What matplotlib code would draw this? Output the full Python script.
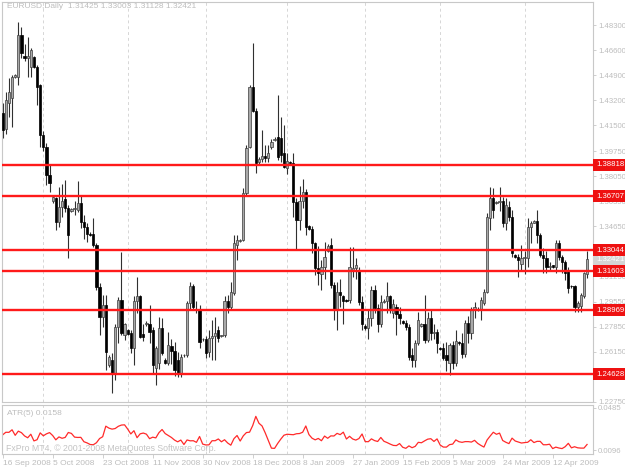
import numpy as np
import pandas as pd
import matplotlib
matplotlib.use("Agg")
import matplotlib.pyplot as plt

plt.rcParams["font.family"] = ["Liberation Sans", "DejaVu Sans"]

# EURUSD daily bars, 16 Sep 2008 - 24 Apr 2009 (Sunday bars included, no 25 Dec / 1 Jan)
opens = [1.4233, 1.4125, 1.4300, 1.4335, 1.4480, 1.4480, 1.4765, 1.4625, 1.4610, 1.4549,
         1.4617, 1.4549, 1.4425, 1.4086, 1.4006, 1.3814, 1.3635, 1.3655, 1.3497, 1.3600,
         1.3650, 1.3590, 1.3570, 1.3580, 1.3576, 1.3622, 1.3497, 1.3460, 1.3415, 1.3410,
         1.3339, 1.3056, 1.2852, 1.2931, 1.2524, 1.2560, 1.2470, 1.2784, 1.2965, 1.2728,
         1.2760, 1.2740, 1.2637, 1.2960, 1.2990, 1.2735, 1.2800, 1.2800, 1.2760, 1.2501,
         1.2535, 1.2773, 1.2560, 1.2540, 1.2650, 1.2620, 1.2560, 1.2470, 1.2590, 1.2590,
         1.2943, 1.3060, 1.2895, 1.2900, 1.2700, 1.2700, 1.2610, 1.2705, 1.2720, 1.2760,
         1.2720, 1.2725, 1.2960, 1.2920, 1.3010, 1.3340, 1.3365, 1.3375, 1.3690, 1.4006,
         1.4410, 1.4250, 1.3900, 1.3925, 1.3940, 1.3930, 1.4005, 1.4050, 1.4070, 1.4063,
         1.3960, 1.3860, 1.3900, 1.3893, 1.3633, 1.3510, 1.3640, 1.3700, 1.3470, 1.3450,
         1.3350, 1.3180, 1.3140, 1.3190, 1.3300, 1.3339, 1.3067, 1.2897, 1.3022, 1.2990,
         1.2965, 1.2965, 1.3170, 1.3180, 1.3170, 1.2950, 1.2790, 1.2775, 1.2840, 1.3033,
         1.2910, 1.2800, 1.2950, 1.2960, 1.2990, 1.2880, 1.2920, 1.2870, 1.2820, 1.2810,
         1.2784, 1.2590, 1.2560, 1.2671, 1.2790, 1.2800, 1.2694, 1.2841, 1.2739, 1.2750,
         1.2640, 1.2637, 1.2590, 1.2535, 1.2660, 1.2540, 1.2680, 1.2670, 1.2600, 1.2810,
         1.2740, 1.2900, 1.2905, 1.2900, 1.2943, 1.3022, 1.3520, 1.3655, 1.3622, 1.3630,
         1.3640, 1.3485, 1.3600, 1.3530, 1.3270, 1.3258, 1.3210, 1.3248, 1.3250, 1.3463,
         1.3490, 1.3500, 1.3407, 1.3271, 1.3250, 1.3190, 1.3200, 1.3192, 1.3350, 1.3260,
         1.3220, 1.3160, 1.3060, 1.3058, 1.2920, 1.2925, 1.2990, 1.31425]
highs = [1.4301, 1.4380, 1.4470, 1.4495, 1.4500, 1.4855, 1.4820, 1.4700, 1.4750, 1.4675,
         1.4625, 1.4560, 1.4430, 1.4110, 1.4029, 1.3882, 1.3680, 1.3667, 1.3730, 1.3750,
         1.3780, 1.3610, 1.3590, 1.3640, 1.3770, 1.3680, 1.3540, 1.3490, 1.3425, 1.3520,
         1.3350, 1.3080, 1.2999, 1.2999, 1.2590, 1.2603, 1.2800, 1.2988, 1.3294, 1.2810,
         1.2770, 1.2760, 1.2990, 1.3124, 1.3000, 1.2800, 1.2820, 1.2931, 1.2780, 1.2650,
         1.2850, 1.2840, 1.2570, 1.2750, 1.2700, 1.2680, 1.2610, 1.2600, 1.2600, 1.2960,
         1.3090, 1.3075, 1.2960, 1.2930, 1.2710, 1.2720, 1.2760, 1.2830, 1.2850, 1.2790,
         1.2730, 1.2990, 1.3000, 1.3090, 1.3407, 1.3407, 1.3380, 1.3725, 1.4020, 1.4425,
         1.4708, 1.4270, 1.3935, 1.4119, 1.4017, 1.4017, 1.4060, 1.4070, 1.4357, 1.4210,
         1.4150, 1.3960, 1.3910, 1.3961, 1.3660, 1.3740, 1.3790, 1.3720, 1.3475, 1.3470,
         1.3360, 1.3330, 1.3240, 1.3360, 1.3345, 1.3385, 1.3090, 1.3090, 1.3110, 1.3000,
         1.2975, 1.3328, 1.3328, 1.3250, 1.3190, 1.2990, 1.2800, 1.2900, 1.3060, 1.3070,
         1.2940, 1.3000, 1.2970, 1.3090, 1.3000, 1.2970, 1.2940, 1.2920, 1.2830, 1.2830,
         1.2800, 1.2640, 1.2694, 1.2886, 1.2810, 1.2999, 1.2886, 1.2897, 1.2800, 1.2770,
         1.2645, 1.2671, 1.2680, 1.2671, 1.2690, 1.2760, 1.2690, 1.2739, 1.2830, 1.2860,
         1.2920, 1.2950, 1.2915, 1.2988, 1.3040, 1.3554, 1.3735, 1.3723, 1.3640, 1.3735,
         1.3667, 1.3655, 1.3640, 1.3576, 1.3275, 1.3280, 1.3339, 1.3300, 1.3520, 1.3500,
         1.3510, 1.3576, 1.3420, 1.3320, 1.3300, 1.3220, 1.3205, 1.3373, 1.3373, 1.3270,
         1.3237, 1.3190, 1.3065, 1.3070, 1.2960, 1.3010, 1.3158, 1.33003]
lows = [1.4063, 1.4095, 1.4210, 1.4140, 1.4470, 1.4425, 1.4605, 1.4590, 1.4480, 1.4482,
        1.4540, 1.4290, 1.4006, 1.3975, 1.3746, 1.3701, 1.3625, 1.3441, 1.3460, 1.3530,
        1.3560, 1.3248, 1.3560, 1.3540, 1.3565, 1.3455, 1.3380, 1.3360, 1.3400, 1.3325,
        1.3033, 1.2728, 1.2784, 1.2490, 1.2510, 1.2332, 1.2420, 1.2671, 1.2728, 1.2694,
        1.2725, 1.2603, 1.2524, 1.2880, 1.2705, 1.2690, 1.2790, 1.2671, 1.2467, 1.2388,
        1.2500, 1.2590, 1.2530, 1.2524, 1.2530, 1.2450, 1.2440, 1.2445, 1.2580, 1.2580,
        1.2900, 1.2900, 1.2880, 1.2640, 1.2690, 1.2570, 1.2580, 1.2560, 1.2560, 1.2680,
        1.2715, 1.2715, 1.2880, 1.2900, 1.2999, 1.3240, 1.3360, 1.3365, 1.3680, 1.4000,
        1.4240, 1.3825, 1.3890, 1.3905, 1.3905, 1.3905, 1.3990, 1.4045, 1.3915, 1.3900,
        1.3860, 1.3820, 1.3885, 1.3531, 1.3305, 1.3440, 1.3590, 1.3407, 1.3440, 1.3283,
        1.3135, 1.3065, 1.3033, 1.3110, 1.3290, 1.3050, 1.2830, 1.2762, 1.2920, 1.2800,
        1.2955, 1.2943, 1.3124, 1.3110, 1.2930, 1.2760, 1.2765, 1.2700, 1.2790, 1.2880,
        1.2750, 1.2780, 1.2945, 1.2880, 1.2880, 1.2840, 1.2730, 1.2800, 1.2800, 1.2760,
        1.2558, 1.2513, 1.2513, 1.2660, 1.2780, 1.2671, 1.2680, 1.2694, 1.2700, 1.2603,
        1.2625, 1.2558, 1.2480, 1.2456, 1.2500, 1.2520, 1.2660, 1.2569, 1.2581, 1.2671,
        1.2700, 1.2840, 1.2890, 1.2830, 1.2930, 1.3010, 1.3441, 1.3520, 1.3615, 1.3570,
        1.3463, 1.3441, 1.3500, 1.3260, 1.3250, 1.3124, 1.3170, 1.3140, 1.3190, 1.3350,
        1.3485, 1.3350, 1.3260, 1.3146, 1.3150, 1.3170, 1.3180, 1.3146, 1.3240, 1.3146,
        1.3100, 1.3011, 1.3050, 1.2886, 1.2886, 1.2886, 1.2980, 1.31128]
closes = [1.4119, 1.4320, 1.4380, 1.4480, 1.4490, 1.4765, 1.4640, 1.4610, 1.4620, 1.4663,
          1.4549, 1.4410, 1.4086, 1.4006, 1.3814, 1.3760, 1.3665, 1.3497, 1.3600, 1.3640,
          1.3590, 1.3407, 1.3580, 1.3590, 1.3622, 1.3497, 1.3460, 1.3410, 1.3405, 1.3339,
          1.3056, 1.2852, 1.2931, 1.2615, 1.2581, 1.2467, 1.2784, 1.2965, 1.2739, 1.2800,
          1.2735, 1.2640, 1.2960, 1.2990, 1.2717, 1.2715, 1.2810, 1.2750, 1.2524, 1.2637,
          1.2773, 1.2603, 1.2540, 1.2660, 1.2620, 1.2490, 1.2470, 1.2580, 1.2592, 1.2943,
          1.3060, 1.2920, 1.2905, 1.2680, 1.2700, 1.2603, 1.2710, 1.2720, 1.2740, 1.2710,
          1.2725, 1.2960, 1.2920, 1.3022, 1.3350, 1.3370, 1.3375, 1.3690, 1.4000, 1.4410,
          1.4250, 1.3893, 1.3925, 1.3940, 1.3930, 1.3965, 1.4035, 1.4060, 1.3935, 1.3950,
          1.3870, 1.3910, 1.3893, 1.3633, 1.3510, 1.3640, 1.3700, 1.3463, 1.3450, 1.3350,
          1.3180, 1.3150, 1.3190, 1.3260, 1.3335, 1.3067, 1.2897, 1.3022, 1.2999, 1.2960,
          1.2960, 1.3192, 1.3180, 1.3200, 1.2950, 1.2800, 1.2775, 1.2840, 1.3033, 1.2910,
          1.2800, 1.2950, 1.2960, 1.2990, 1.2910, 1.2940, 1.2870, 1.2840, 1.2810, 1.2784,
          1.2581, 1.2560, 1.2671, 1.2830, 1.2800, 1.2694, 1.2841, 1.2739, 1.2750, 1.2671,
          1.2630, 1.2569, 1.2560, 1.2660, 1.2540, 1.2690, 1.2670, 1.2600, 1.2810, 1.2740,
          1.2900, 1.2920, 1.2900, 1.2965, 1.3020, 1.3531, 1.3655, 1.3576, 1.3633, 1.3640,
          1.3485, 1.3610, 1.3530, 1.3283, 1.3258, 1.3237, 1.3248, 1.3260, 1.3463, 1.3485,
          1.3500, 1.3407, 1.3271, 1.3250, 1.3190, 1.3195, 1.3192, 1.3350, 1.3260, 1.3220,
          1.3150, 1.3045, 1.3058, 1.2920, 1.2945, 1.2999, 1.3146, 1.32421]

levels = [1.38818, 1.36707, 1.33044, 1.31603, 1.28969, 1.24628]
price_ticks = [1.48300, 1.46600, 1.44900, 1.43200, 1.41500, 1.39750, 1.38050, 1.36350,
               1.34650, 1.32950, 1.31250, 1.29550, 1.27850, 1.26150, 1.24450, 1.22750]
date_labels = ["16 Sep 2008", "5 Oct 2008", "23 Oct 2008", "11 Nov 2008", "30 Nov 2008",
               "18 Dec 2008", "8 Jan 2009", "27 Jan 2009", "15 Feb 2009", "5 Mar 2009",
               "24 Mar 2009", "12 Apr 2009"]
atr_labels = [0.0096, 0.0485]

o = np.array(opens); h = np.array(highs); l = np.array(lows); c = np.array(closes)
n = len(c)
x = np.arange(n)

# trading calendar (Sun-Fri) for month grid lines
days = pd.date_range("2008-09-16", "2009-04-24", freq="D")
days = days[(days.weekday != 5) & ~days.isin(pd.to_datetime(["2008-12-25", "2009-01-01"]))]
month_start = [i for i in range(1, len(days)) if days[i].month != days[i - 1].month]

# ATR(5)
pc = np.r_[c[0], c[:-1]]
tr = np.maximum(h - l, np.maximum(abs(h - pc), abs(l - pc)))
atr = pd.Series(tr).rolling(5, min_periods=1).mean().values

txt = "#bdbdbd"
frame = "#c8c8c8"
fs = 6
rfs = 5.6  # right-hand price scale
W, H = 625, 469
fig = plt.figure(figsize=(6.25, 4.69), dpi=100)
fig.patch.set_facecolor("white")
ax = fig.add_axes([2 / W, 1 - 402 / H, 591 / W, 400 / H])
ax2 = fig.add_axes([2 / W, 1 - 454 / H, 591 / W, 49 / H])

for a in (ax, ax2):
    for s in a.spines.values():
        s.set_color(frame)
        s.set_linewidth(0.8)
    a.set_xlim(-0.22, 188.9)
    for m in month_start:
        a.axvline(m, color="#d6d6d6", lw=0.7, ls=(0, (3, 3)), zorder=0)

# candles
bull = c >= o
body_lo = np.minimum(o, c)
body_h = np.maximum(np.abs(c - o), 0.00025)
ax.vlines(x, l, h, color="#303030", lw=0.8, zorder=2)
ax.bar(x[bull], body_h[bull], bottom=body_lo[bull], width=0.72,
       color="#a9a9a9", edgecolor="#3c3c3c", linewidth=0.5, zorder=3)
ax.bar(x[~bull], body_h[~bull], bottom=body_lo[~bull], width=0.72,
       color="#000000", edgecolor="#000000", linewidth=0.5, zorder=3)

# support / resistance lines
box_kw = dict(boxstyle="square,pad=0.35", ec="none")
for lv in levels:
    ax.axhline(lv, color="#ff1a1a", lw=1.7, zorder=4)
    ax.text(1.005, lv, "%.5f" % lv, transform=ax.get_yaxis_transform(), ha="left", va="center",
            fontsize=rfs, color="white", zorder=6, clip_on=False,
            bbox=dict(fc="#ee1111", **box_kw))
ax.text(1.005, c[-1], "%.5f" % c[-1], transform=ax.get_yaxis_transform(), ha="left", va="center",
        fontsize=rfs, color="white", zorder=5, clip_on=False,
        bbox=dict(fc="#d4d4d4", **box_kw))

ax.set_ylim(1.22728, 1.49884)
ax.yaxis.tick_right()
ax.set_yticks(price_ticks)
ax.set_yticklabels(["%.5f" % p for p in price_ticks])
ax.tick_params(axis="y", colors=frame, labelcolor=txt, labelsize=rfs, length=2, pad=1.5, width=0.6)
ax.set_xticks([])

ax2.plot(x, atr, color="#ff2a2a", lw=0.9)
ax2.set_ylim(0.0062, 0.0512)
ax2.yaxis.tick_right()
ax2.set_yticks(atr_labels)
ax2.set_yticklabels(["%.4f" % v for v in atr_labels])
ax2.tick_params(axis="y", colors=frame, labelcolor=txt, labelsize=rfs, length=2, pad=1.5, width=0.6)
ax2.set_xticks(np.arange(0, 16 * len(date_labels), 16))
ax2.set_xticklabels(date_labels)
ax2.tick_params(axis="x", colors=frame, labelcolor=txt, labelsize=fs, length=3, pad=1, width=0.6)
for lab in ax2.get_xticklabels():
    lab.set_ha("left")

fig.text(7 / W, 1 - 7 / H, "EURUSD,Daily  1.31425 1.33003 1.31128 1.32421",
         fontsize=fs, color=txt, va="center")
fig.text(7 / W, 1 - 413 / H, "ATR(5) 0.0158", fontsize=fs, color=txt, va="center")
fig.text(6 / W, 1 - 448 / H, "FxPro MT4, \u00a9 2001-2008 MetaQuotes Software Corp.",
         fontsize=6.3, color="#c4c4c4", va="center")

fig.savefig("out.png", dpi=100, facecolor="white")
